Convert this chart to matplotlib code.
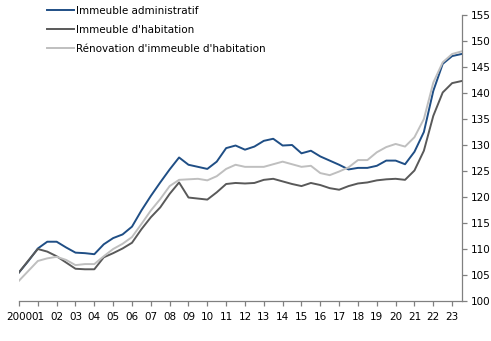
import numpy as np
import matplotlib
matplotlib.use('Agg')
import matplotlib.pyplot as plt

# semi-annual observations, 2000 to 2023.5
years = np.arange(2000, 2024, 0.5)

administratif = [105.5, 107.7, 110.1, 111.4, 111.4, 110.3, 109.3, 109.2,
                 109.0, 110.9, 112.1, 112.8, 114.3, 117.4, 120.2, 122.8,
                 125.3, 127.6, 126.2, 125.8, 125.4, 126.8, 129.4, 129.9,
                 129.1, 129.7, 130.8, 131.2, 129.9, 130.0, 128.4, 128.9,
                 127.8, 127.0, 126.2, 125.3, 125.6, 125.6, 126.0, 127.0,
                 127.0, 126.3, 128.7, 132.5, 140.4, 145.6, 147.1, 147.5]

habitation = [105.5, 107.8, 110.0, 109.5, 108.6, 107.4, 106.2, 106.1,
              106.1, 108.4, 109.2, 110.1, 111.2, 113.8, 116.1, 118.0,
              120.6, 122.8, 119.9, 119.7, 119.5, 120.9, 122.5, 122.7,
              122.6, 122.7, 123.3, 123.5, 123.0, 122.5, 122.1, 122.7,
              122.3, 121.7, 121.4, 122.1, 122.6, 122.8, 123.2, 123.4,
              123.5, 123.3, 125.1, 128.9, 135.6, 140.1, 141.9, 142.3]

renovation = [103.9, 105.8, 107.7, 108.2, 108.5, 107.9, 106.9, 107.1,
              107.1, 108.6, 110.0, 111.0, 112.3, 114.8, 117.4, 119.6,
              122.1, 123.3, 123.4, 123.5, 123.2, 124.0, 125.4, 126.2,
              125.8, 125.8, 125.8, 126.3, 126.8, 126.3, 125.8, 126.0,
              124.6, 124.2, 124.9, 125.7, 127.1, 127.1, 128.6, 129.6,
              130.2, 129.7, 131.5, 135.0, 142.0, 145.9, 147.5, 148.0]

labels = ['Immeuble administratif', "Immeuble d'habitation",
          "Rénovation d'immeuble d'habitation"]
colors = ['#1f4e85', '#595959', '#bfbfbf']

tick_years = np.arange(2000, 2024)
tick_labels = ['2000'] + ['%02d' % (y % 100) for y in tick_years[1:]]

plt.rcParams['font.family'] = ['DejaVu Sans']
fig = plt.figure(figsize=(4.91, 3.41), dpi=100)
ax = fig.add_axes([0.0387, 0.1173, 0.9013, 0.8387])

for vals, lab, col in zip([administratif, habitation, renovation], labels, colors):
    ax.plot(years, vals, color=col, lw=1.4, label=lab)

ax.set_xlim(2000, 2023.5)
ax.set_ylim(100, 155)
ax.set_xticks(tick_years)
ax.set_xticklabels(tick_labels)
ax.set_yticks(np.arange(100, 156, 5))

for s in ['left', 'top']:
    ax.spines[s].set_visible(False)
for s in ['right', 'bottom']:
    ax.spines[s].set_color('#808080')
    ax.spines[s].set_linewidth(0.9)

ax.yaxis.tick_right()
ax.tick_params(axis='both', colors='#808080', labelcolor='black',
               labelsize=7.5, length=3.5, width=0.9, direction='out')
ax.tick_params(axis='x', pad=4.5)
ax.tick_params(axis='y', pad=3)

fig.legend(loc='upper left', bbox_to_anchor=(0.088, 0.995), frameon=False,
           fontsize=7.5, handlelength=2.6, handletextpad=0.15,
           labelspacing=0.85, borderaxespad=0)

fig.savefig('out.png', dpi=100)
